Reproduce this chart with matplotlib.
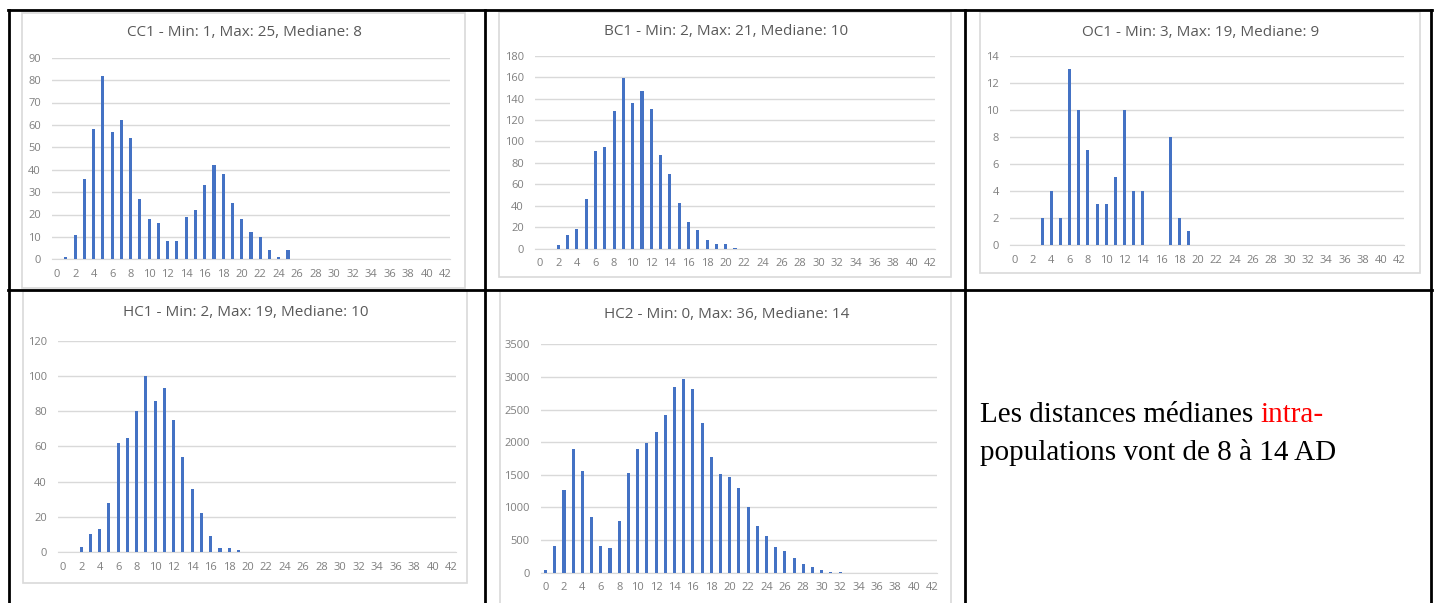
import matplotlib
matplotlib.use("Agg")
import matplotlib.pyplot as plt
from matplotlib.lines import Line2D
from matplotlib.patches import Rectangle

W, H = 1437, 603

categories = list(range(43))
tick_labels = [str(c) for c in range(0, 43, 2)]

cc1 = [0, 1, 11, 36, 58, 82, 57, 62, 54, 27, 18, 16, 8, 8, 19, 22, 33, 42, 38, 25, 18, 12, 10, 4, 1, 4]
bc1 = [0, 0, 3, 13, 18, 46, 91, 95, 128, 159, 136, 147, 130, 87, 70, 43, 25, 17, 8, 4, 4, 1]
oc1 = [0, 0, 0, 2, 4, 2, 13, 10, 7, 3, 3, 5, 10, 4, 4, 0, 0, 8, 2, 1]
hc1 = [0, 0, 3, 10, 13, 28, 62, 65, 80, 100, 86, 93, 75, 54, 36, 22, 9, 2, 2, 1]
hc2 = [40, 410, 1270, 1900, 1560, 850, 410, 375, 790, 1530, 1890, 1990, 2150, 2420,
       2840, 2970, 2810, 2300, 1780, 1510, 1460, 1300, 1000, 720, 555, 400, 340, 230,
       140, 80, 40, 15, 15, 2, 1, 1, 1]

titles = ["CC1 - Min: 1, Max: 25, Mediane: 8",
          "BC1 - Min: 2, Max: 21, Mediane: 10",
          "OC1 - Min: 3, Max: 19, Mediane: 9",
          "HC1 - Min: 2, Max: 19, Mediane: 10",
          "HC2 - Min: 0, Max: 36, Mediane: 14"]
series = [cc1, bc1, oc1, hc1, hc2]
y_max = [90, 180, 14, 120, 3500]
y_step = [10, 20, 2, 20, 500]

# pixel layout: chart frame (x0, x1, y0, y1), plot area (x0, x1, y_top, y_bottom), title y
frames = [(22, 465, 13, 288), (499, 951, 12, 277), (980, 1420, 12, 273),
          (23, 467, 291, 583), (500, 951, 291, 610)]
plots = [(52, 450, 57.7, 259.3), (535, 935, 55.7, 248.7), (1010, 1404, 55.7, 245),
         (58, 456, 340.7, 552), (541, 936.7, 344.3, 572.7)]
title_y = [32.7, 31.7, 32.7, 313, 315]

BLUE = "#4472C4"
GRID = "#D9D9D9"
TEXT = "#595959"
TICK = "#7F7F7F"
FONT = "Open Sans"

fig = plt.figure(figsize=(W / 100, H / 100), dpi=100)
fig.patch.set_facecolor("white")


def fx(x):
    return x / W


def fy(y):
    return 1 - y / H


# chart frames, drawn beneath the axes
for (x0, x1, y0, y1) in frames:
    fig.add_artist(Rectangle((fx(x0), fy(y1)), fx(x1 - x0), (y1 - y0) / H,
                             transform=fig.transFigure, facecolor="none",
                             edgecolor=GRID, linewidth=1.2, zorder=-1))

for i, vals in enumerate(series):
    px0, px1, pt, pb = plots[i]
    ax = fig.add_axes([fx(px0), fy(pb), fx(px1 - px0), (pb - pt) / H])
    full = vals + [0] * (len(categories) - len(vals))
    ax.bar(categories, full, width=0.33, color=BLUE, zorder=3)
    ax.set_xlim(-0.5, 42.5)
    ax.set_ylim(0, y_max[i])
    ax.set_yticks(range(0, y_max[i] + 1, y_step[i]))
    ax.set_xticks(range(0, 43, 2))
    ax.set_xticklabels(tick_labels)
    ax.grid(axis="y", color=GRID, linewidth=1.0, zorder=0)
    for s in ["top", "right", "left"]:
        ax.spines[s].set_visible(False)
    ax.spines["bottom"].set_color(GRID)
    ax.tick_params(length=0, colors=TICK, labelsize=8)
    ax.tick_params(axis="y", pad=8)
    ax.tick_params(axis="x", pad=7)
    for lab in ax.get_xticklabels() + ax.get_yticklabels():
        lab.set_fontfamily(FONT)
    ax.set_facecolor("none")
    fx0, fx1 = frames[i][0], frames[i][1]
    fig.text(fx((fx0 + fx1) / 2 + 1), fy(title_y[i]), titles[i], ha="center",
             va="center", color=TEXT, fontsize=11, family=FONT)

# table grid
lw = 2.0
for x in [9, 485, 965, 1431]:
    fig.add_artist(Line2D([fx(x), fx(x)], [fy(10), 0], transform=fig.transFigure,
                          color="black", linewidth=lw))
for y in [10, 290]:
    fig.add_artist(Line2D([fx(8), fx(1432)], [fy(y), fy(y)], transform=fig.transFigure,
                          color="black", linewidth=lw))

# text cell
first = fig.text(fx(980), fy(415), "Les distances médianes ", ha="left", va="center",
                 fontsize=21, family="Liberation Serif", color="black")
fig.text(fx(980), fy(452), "populations vont de 8 à 14 AD", ha="left",
         va="center", fontsize=21, family="Liberation Serif", color="black")
fig.canvas.draw()
bb = first.get_window_extent()
fig.text(bb.x1 / W, fy(415), "intra-", ha="left", va="center", fontsize=21,
         family="Liberation Serif", color="red")

fig.savefig("out.png", dpi=100)
